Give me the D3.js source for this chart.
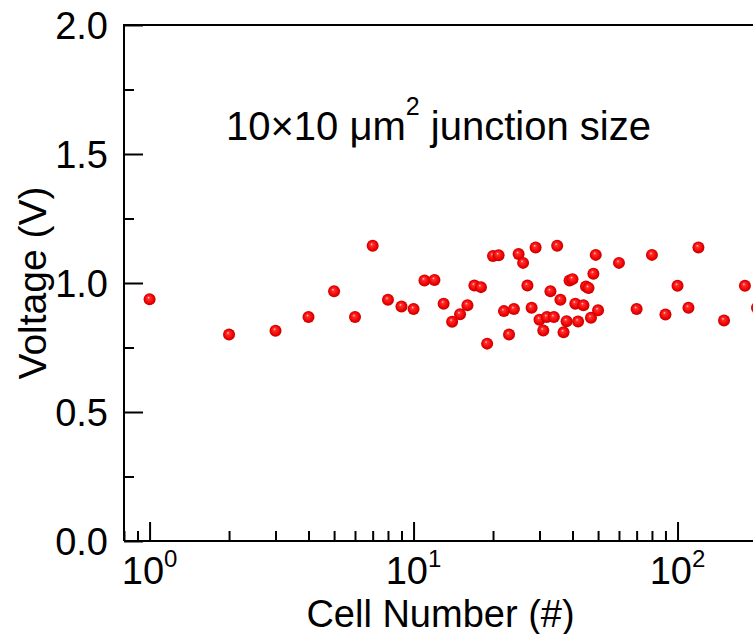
<!DOCTYPE html>
<html>
<head>
<meta charset="utf-8">
<script src="https://cdn.jsdelivr.net/npm/d3@7"></script>
<style>
  body { margin: 0; background: #fff; }
  svg { display: block; font-family: Arial, "Liberation Sans", sans-serif; }
</style>
</head>
<body>
<svg id="container" width="753" height="634"></svg>
<script>
// data
const cellNumber = [1, 2, 3, 4, 5, 6, 7, 8, 9, 10,
    11, 12, 13, 14, 15, 16, 17, 18, 19, 20,
    21, 22, 23, 24, 25, 26, 27, 28, 29, 30,
    31, 32, 33, 34, 35, 36, 37, 38, 39, 40,
    41, 42, 44, 45, 46, 47, 48, 49, 50,
    60, 70, 80, 90, 100, 110, 120, 150, 180, 200];
const voltage = [0.937, 0.800, 0.815, 0.868, 0.968, 0.868, 1.144, 0.935, 0.909, 0.899,
    1.010, 1.012, 0.920, 0.850, 0.879, 0.914, 0.990, 0.984, 0.765, 1.105,
    1.108, 0.891, 0.800, 0.899, 1.112, 1.078, 0.990, 0.904, 1.138, 0.858,
    0.816, 0.868, 0.968, 0.868, 1.144, 0.935, 0.809, 0.852, 1.010, 1.015,
    0.920, 0.851, 0.914, 0.986, 0.981, 0.865, 1.036, 1.109, 0.894,
    1.078, 0.899, 1.109, 0.878, 0.989, 0.904, 1.138, 0.855, 0.989, 0.904];
const xDomain = [0.8, 200];
const yDomain = [0, 2];
const xMajor = [1, 10, 100];
const xMajorExp = ["0", "1", "2"];
const yMajor = [0, 0.5, 1.0, 1.5, 2.0];
const yMinor = [0.25, 0.75, 1.25, 1.75];
const xTitle = "Cell Number (#)";
const yTitle = "Voltage (V)";

const svg = d3.select('#container');
const margin = { top: 25, left: 124 };
const plotW = 633, plotH = 516;

const x = d3.scaleLog().domain(xDomain).range([margin.left, margin.left + plotW]);
const y = d3.scaleLinear().domain(yDomain).range([margin.top + plotH, margin.top]);

const defs = svg.append('defs');
const grad = defs.append('radialGradient').attr('id', 'ball')
    .attr('cx', '50%').attr('cy', '50%').attr('r', '50%')
    .attr('fx', '40%').attr('fy', '35%');
grad.append('stop').attr('offset', '0%').attr('stop-color', '#ffd8d8');
grad.append('stop').attr('offset', '22%').attr('stop-color', '#ff3030');
grad.append('stop').attr('offset', '75%').attr('stop-color', '#f00000');
grad.append('stop').attr('offset', '100%').attr('stop-color', '#c00000');

// frame (top + left; right side falls outside the picture)
svg.append('path')
    .attr('d', `M${margin.left + plotW},${margin.top}H${margin.left}V${margin.top + plotH}`)
    .attr('fill', 'none').attr('stroke', '#000').attr('stroke-width', 2);

// x axis, ticks inward
const xMinor = x.ticks().filter(v => !xMajor.includes(v));
const gx = svg.append('g').attr('transform', `translate(0,${margin.top + plotH})`);
gx.call(d3.axisBottom(x).tickValues(xMajor).tickSize(-19).tickFormat(''));
gx.append('g').call(d3.axisBottom(x).tickValues(xMinor).tickSize(-10).tickFormat(''))
    .select('.domain').remove();
gx.selectAll('path, line').attr('stroke', '#000').attr('stroke-width', 2);
gx.select('.domain').attr('d', `M${margin.left},0H${margin.left + plotW}`);

xMajor.forEach((v, i) => {
    const t = svg.append('text')
        .attr('x', x(v)).attr('y', 584)
        .attr('text-anchor', 'middle')
        .attr('font-size', 38);
    t.append('tspan').text('10');
    t.append('tspan').attr('font-size', 24).attr('dy', -17).text(xMajorExp[i]);
});

// y axis, ticks inward
const gy = svg.append('g').attr('transform', `translate(${margin.left},0)`);
gy.call(d3.axisLeft(y).tickValues(yMajor).tickSize(-19).tickFormat(''));
gy.append('g').call(d3.axisLeft(y).tickValues(yMinor).tickSize(-10).tickFormat(''))
    .select('.domain').remove();
gy.selectAll('path, line').attr('stroke', '#000').attr('stroke-width', 2);
gy.select('.domain').attr('d', `M0,${margin.top}V${margin.top + plotH}`);

svg.selectAll('.ylab').data(yMajor).join('text')
    .attr('class', 'ylab')
    .attr('x', 108).attr('y', d => y(d))
    .attr('dy', '0.36em')
    .attr('text-anchor', 'end')
    .attr('font-size', 38)
    .text(d => d3.format('.1f')(d));

// titles
svg.append('text')
    .attr('x', margin.left + plotW / 2).attr('y', 627)
    .attr('text-anchor', 'middle').attr('font-size', 38)
    .text(xTitle);
svg.append('text')
    .attr('transform', `translate(46,${margin.top + plotH / 2}) rotate(-90)`)
    .attr('text-anchor', 'middle').attr('font-size', 39)
    .text(yTitle);

// annotation
const ann = svg.append('text').attr('x', 226).attr('y', 140).attr('font-size', 40);
ann.append('tspan').text('10\u00d710 \u03bcm');
ann.append('tspan').attr('font-size', 25).attr('dy', -25).text('2');
ann.append('tspan').attr('dy', 25).text(' junction size');

// points
const pts = cellNumber.map((c, i) => [c, voltage[i]]);
svg.append('g').selectAll('circle').data(pts).join('circle')
    .attr('cx', d => x(d[0]))
    .attr('cy', d => y(d[1]))
    .attr('r', 6)
    .attr('fill', 'url(#ball)');
</script>
</body>
</html>
